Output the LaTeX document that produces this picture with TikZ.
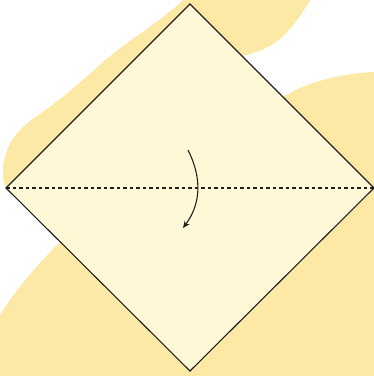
\documentclass[tikz,border=0pt]{standalone}
\usetikzlibrary{arrows.meta}
\definecolor{blob}{RGB}{253,233,166}
\definecolor{paper}{RGB}{255,248,214}
\definecolor{ink}{RGB}{35,31,32}
\tikzset{
  blobfill/.style={fill=blob,draw=none},
  paperstyle/.style={fill=paper,draw=ink,line width=1.1pt,line join=miter},
  foldline/.style={draw=ink,line width=1.1pt,dash pattern=on 3.5pt off 3pt},
  foldarrow/.style={draw=ink,line width=1.1pt,-{Stealth[length=7pt,width=6pt]}}
}
\begin{document}
\begin{tikzpicture}[x=1pt,y=-1pt]
\useasboundingbox (0,0) rectangle (374,376);
% background blobs
\path[blobfill] (6,188) .. controls (1,178) and (2,162) .. (8,148)
  .. controls (16,128) and (35,118) .. (55,103)
  .. controls (75,88) and (95,68) .. (120,48)
  .. controls (145,30) and (168,15) .. (183,0)
  -- (310,0)
  .. controls (300,18) and (285,38) .. (268,47)
  .. controls (258,52) and (250,54) .. (242,56)
  -- (190,120) -- cycle;
\path[blobfill] (374,72) .. controls (350,73) and (325,78) .. (305,86)
  .. controls (296,89) and (290,93) .. (283,97)
  -- (200,200) -- (60,242)
  .. controls (40,262) and (15,290) .. (0,315)
  -- (0,376) -- (374,376) -- cycle;
% paper
\coordinate (T) at (190,4);
\coordinate (L) at (6,188);
\coordinate (R) at (374,188);
\coordinate (B) at (190,371);
\path[paperstyle] (T) -- (R) -- (B) -- (L) -- cycle;
\draw[foldline] (L) -- (R);
\coordinate (a0) at (188,150);
\coordinate (a1) at (183,228);
\draw[foldarrow] (a0) .. controls (203,180) and (200,205) .. (a1);
\end{tikzpicture}
\end{document}
